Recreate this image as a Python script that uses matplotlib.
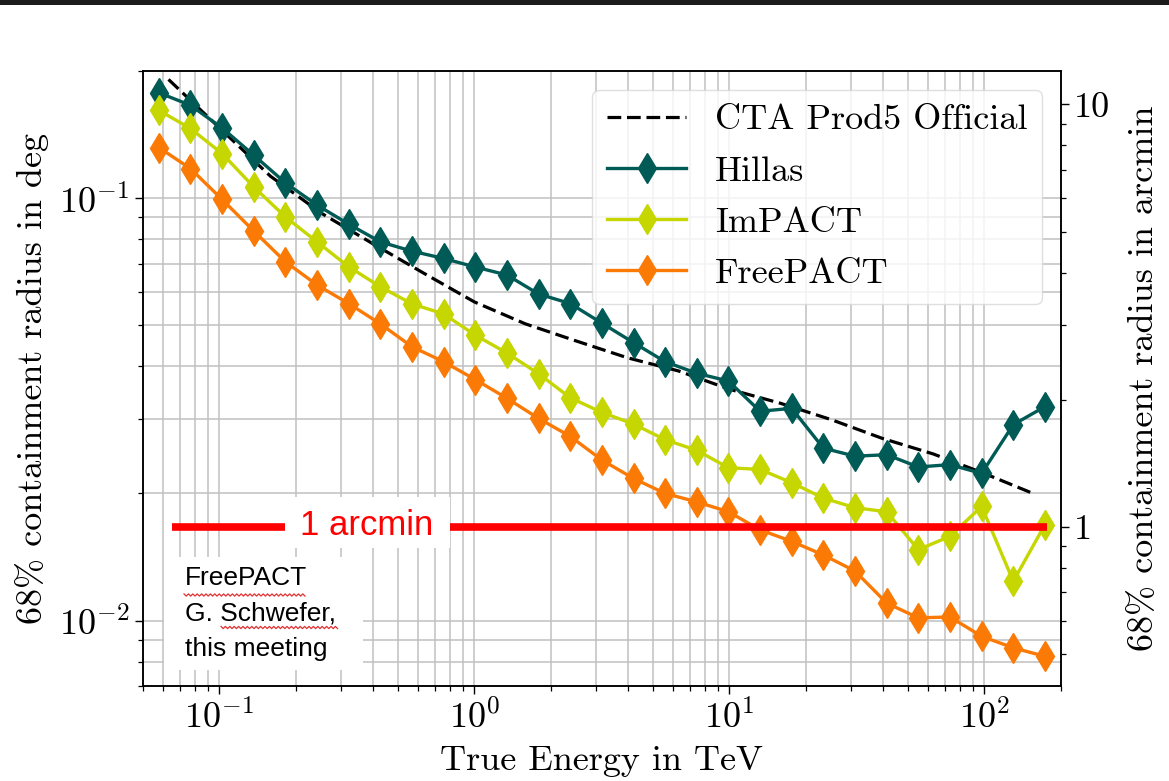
import numpy as np
import matplotlib
matplotlib.use("Agg")
import matplotlib.pyplot as plt
from matplotlib.ticker import FuncFormatter, NullFormatter
from matplotlib.patches import Rectangle
from matplotlib.lines import Line2D

plt.rcParams['font.family'] = 'serif'
plt.rcParams['font.serif'] = ['cmr10']
plt.rcParams['mathtext.fontset'] = 'cm'
plt.rcParams['axes.formatter.use_mathtext'] = True
plt.rcParams['axes.unicode_minus'] = False

# ---- data ----
energy = [0.05782, 0.07693, 0.1024, 0.1363, 0.1814, 0.2414, 0.3213, 0.4277,
          0.5691, 0.7573, 1.008, 1.341, 1.786, 2.376, 3.162, 4.209, 5.601,
          7.454, 9.921, 13.20, 17.57, 23.38, 31.12, 41.43, 55.13, 73.37,
          97.65, 130.0, 173.0]
hillas = [0.1777, 0.1659, 0.1466, 0.1264, 0.1087, 0.0963, 0.0868, 0.0788,
          0.0749, 0.0720, 0.0687, 0.0658, 0.0593, 0.0563, 0.0506, 0.0455,
          0.0410, 0.0385, 0.0369, 0.0313, 0.0318, 0.0256, 0.0245, 0.0247,
          0.0231, 0.0234, 0.0223, 0.0291, 0.0321]
impact = [0.1614, 0.1462, 0.1275, 0.1063, 0.0903, 0.0788, 0.0688, 0.0617,
          0.0562, 0.0532, 0.0474, 0.0430, 0.0384, 0.0337, 0.0311, 0.0292,
          0.0268, 0.0253, 0.0230, 0.0228, 0.0212, 0.0195, 0.0185, 0.0181,
          0.01472, 0.01583, 0.01863, 0.01239, 0.01687]
freepact = [0.1318, 0.1175, 0.0993, 0.0836, 0.0707, 0.0623, 0.0563, 0.0504,
            0.0445, 0.0410, 0.0372, 0.0336, 0.0301, 0.0273, 0.0240, 0.0217,
            0.0200, 0.0191, 0.0181, 0.0164, 0.0154, 0.0143, 0.0131, 0.0110,
            0.01015, 0.0102, 0.00918, 0.00862, 0.00823]
cta_energy = [0.0631, 0.1, 0.1585, 0.2512, 0.3981, 0.631, 1.0, 1.585, 2.512,
              3.981, 6.31, 10.0, 15.85, 25.12, 39.81, 63.1, 100.0, 158.5]
cta = [0.191, 0.1467, 0.1127, 0.0921, 0.0781, 0.0665, 0.0568, 0.0504, 0.0459,
       0.0419, 0.0390, 0.0353, 0.0327, 0.0299, 0.0270, 0.0248, 0.0223, 0.0199]

ARCMIN_DEG = 1.0 / 60.0
arcmin_line_span = [0.0654, 177.0]

c_hillas = '#005a55'
c_impact = '#c5d600'
c_free = '#fb7a05'

FS = 26
W, H = 1169, 781

fig = plt.figure(figsize=(W / 100, H / 100), dpi=100)
ax = fig.add_axes([0.1221, 0.1216, 0.9076 - 0.1221, 0.9091 - 0.1216])

ax.plot(cta_energy, cta, ls='--', color='black', lw=2.3, label='CTA Prod5 Official', zorder=3,
        dashes=(4.3, 1.8))
ax.plot(energy, hillas, marker='d', color=c_hillas, lw=2.4, ms=15, label='Hillas', zorder=4)
ax.plot(energy, impact, marker='d', color=c_impact, lw=2.4, ms=15, label='ImPACT', zorder=4)
ax.plot(energy, freepact, marker='d', color=c_free, lw=2.4, ms=15, label='FreePACT', zorder=4)

ax.set_xscale('log')
ax.set_yscale('log')
ax.set_xlim(0.05, 200)
ax.set_ylim(0.007, 0.2)

ax.grid(True, which='both', color='#c0c0c0', lw=1.1, zorder=0)
ax.set_axisbelow(True)
ax.tick_params(which='major', direction='out', length=5.5, width=1.0, labelsize=FS, pad=4)
ax.tick_params(which='minor', direction='out', length=3.6, width=0.9)
for s in ax.spines.values():
    s.set_linewidth(1.1)

ax.set_xlabel('True Energy in TeV', fontsize=FS, labelpad=7.5)
ax.set_ylabel('68% containment radius in deg', fontsize=FS, labelpad=7)

ax2 = ax.twinx()
ax2.set_yscale('log')
ax2.set_ylim(0.007 * 60, 0.2 * 60)
ax2.yaxis.set_major_formatter(FuncFormatter(lambda v, p: '%g' % v))
ax2.yaxis.set_minor_formatter(NullFormatter())
ax2.tick_params(which='major', direction='out', length=5.5, width=1.0, labelsize=FS, pad=4)
ax2.tick_params(which='minor', direction='out', length=3.6, width=0.9)
ax2.set_ylabel('68% containment radius in arcmin', fontsize=FS, labelpad=13)
for s in ax2.spines.values():
    s.set_linewidth(1.1)

leg = ax.legend(loc='upper right', fontsize=FS, framealpha=0.8, edgecolor='#d8d8d8',
                handlelength=2.2, labelspacing=0.52, borderaxespad=0.52, handletextpad=0.8)
leg.set_zorder(10)

# ---- overlay annotations ----
ax.plot(arcmin_line_span, [ARCMIN_DEG, ARCMIN_DEG], color='#ff0000', lw=5.5, zorder=6,
        solid_capstyle='butt')
ax.add_patch(Rectangle((0.155, 0.2244), 0.18, 0.083, transform=ax.transAxes,
                       facecolor='white', edgecolor='none', zorder=7))
ax.text(0.2443, 0.2455, '1 arcmin', transform=ax.transAxes, ha='center', va='baseline',
        color='#ff0000', fontsize=25, family=['Liberation Sans'], zorder=8)

ax.add_patch(Rectangle((0.0235, 0.026), 0.2165, 0.1838, transform=ax.transAxes,
                       facecolor='white', edgecolor='none', zorder=7))
ax.text(0.046, 0.1950, 'FreePACT\nG. Schwefer,\nthis meeting', transform=ax.transAxes,
        ha='left', va='top', color='black', fontsize=19, family=['Liberation Sans'],
        linespacing=1.6, zorder=8)

# spell-check style wavy underlines (decoration, in pixel units of the figure)
def squiggle(x0, x1, y):
    xs = np.arange(x0, x1 + 0.1, 2.2)
    ys = y + np.where(np.arange(len(xs)) % 2 == 0, -1.1, 1.1)
    fig.add_artist(Line2D(xs / W, 1 - ys / H, transform=fig.transFigure,
                          color='#e03030', lw=0.9, zorder=9))

squiggle(184, 306, 595)
squiggle(221, 338, 627.5)

# dark bar at top of screenshot
fig.patches.append(Rectangle((0, 1 - 5 / H), 1, 5 / H, transform=fig.transFigure,
                             facecolor='#1c1c1c', edgecolor='none'))

fig.savefig('out.png', dpi=100)
